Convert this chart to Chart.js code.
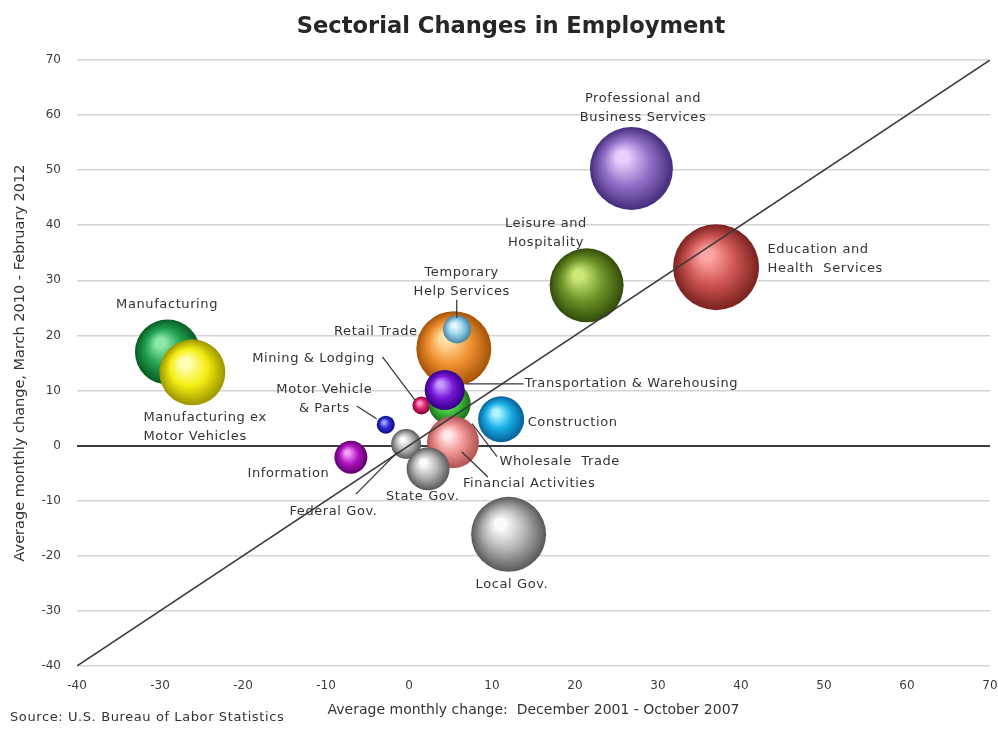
<!DOCTYPE html>
<html>
<head>
<meta charset="utf-8">
<script src="https://cdn.jsdelivr.net/npm/chart.js@4/dist/chart.umd.min.js"></script>
<style>
html,body{margin:0;padding:0;background:#ffffff;}
#wrap{width:998px;height:730px;}
</style>
</head>
<body>
<div id="wrap"><canvas id="c" width="998" height="730"></canvas></div>
<script>
// ---------- data ----------
const sectors = [
  'Manufacturing', 'Manufacturing ex Motor Vehicles', 'Professional and Business Services',
  'Education and Health Services', 'Leisure and Hospitality', 'Retail Trade',
  'Temporary Help Services', 'Mining & Lodging', 'Wholesale Trade',
  'Transportation & Warehousing', 'Financial Activities', 'Construction',
  'Federal Gov.', 'State Gov.', 'Information', 'Motor Vehicle & Parts', 'Local Gov.'
];
// Average monthly change Dec 2001 - Oct 2007 (thousands)
const changeBefore = [-29.1, -26.1, 26.8, 37.0, 21.4, 5.4, 5.8, 1.5, 4.9, 4.3, 5.3, 11.1, -0.35, 2.3, -7.0, -2.8, 12.0];
// Average monthly change Mar 2010 - Feb 2012 (thousands)
const changeAfter  = [17.0, 13.3, 50.3, 32.4, 29.1, 17.6, 21.1, 7.3, 7.6, 10.1, 0.6, 4.8, 0.3, -4.2, -2.1, 3.8, -16.1];
// bubble size (sector size)
const bubbleSizes  = [32.5, 33, 41.5, 43, 37, 37.5, 14, 9, 21, 20, 26, 23, 15, 21.5, 16.5, 9, 37.5];
const axisTicks = [-40, -30, -20, -10, 0, 10, 20, 30, 40, 50, 60, 70];
const diagonal = [{x: -40, y: -40}, {x: 70, y: 70}];

// ---------- styles ----------
const spherePalette = [
  ['#8ce8aa', '#22a252', '#0a5e26'],
  ['#ffffb8', '#f4ee12', '#a09a00'],
  ['#e8d0ff', '#9272c8', '#4a3080'],
  ['#ffa4a2', '#cc5552', '#7e2422'],
  ['#cce878', '#6f9428', '#36500c'],
  ['#ffe0a4', '#f29232', '#a8560a'],
  ['#eaf8ff', '#92d0e8', '#4a88a8'],
  ['#ff9cc8', '#e0206a', '#84003a'],
  ['#b0f6a0', '#42c242', '#1a741a'],
  ['#c89cff', '#7818d8', '#38008c'],
  ['#ffe8e8', '#f09292', '#b45656'],
  ['#b0f4ff', '#18aee6', '#08659c'],
  ['#fcfcfc', '#b4b4b4', '#5e5e5e'],
  ['#fcfcfc', '#b4b4b4', '#5e5e5e'],
  ['#f69cfc', '#b014c0', '#640072'],
  ['#a0a0ff', '#2a2ad0', '#0e0e84'],
  ['#fcfcfc', '#b4b4b4', '#5e5e5e']
];
const labelItems = [
  {lines: ['Professional and', 'Business Services'], x: 28.2, y: 63.0, align: 'center'},
  {lines: ['Leisure and', 'Hospitality'], x: 16.5, y: 40.3, align: 'center'},
  {lines: ['Education and', 'Health  Services'], x: 43.2, y: 35.6, align: 'left'},
  {lines: ['Temporary', 'Help Services'], x: 6.35, y: 31.4, align: 'center'},
  {lines: ['Retail Trade'], x: 1.05, y: 20.7, align: 'right'},
  {lines: ['Mining & Lodging'], x: -4.1, y: 15.8, align: 'right'},
  {lines: ['Motor Vehicle', '& Parts'], x: -10.2, y: 10.1, align: 'center'},
  {lines: ['Manufacturing'], x: -29.15, y: 25.6, align: 'center'},
  {lines: ['Manufacturing ex', 'Motor Vehicles'], x: -32.0, y: 5.1, align: 'left'},
  {lines: ['Information'], x: -9.6, y: -5.1, align: 'right'},
  {lines: ['Federal Gov.'], x: -9.1, y: -12.0, align: 'center'},
  {lines: ['State Gov.'], x: 1.65, y: -9.3, align: 'center'},
  {lines: ['Financial Activities'], x: 6.5, y: -6.9, align: 'left'},
  {lines: ['Wholesale  Trade'], x: 10.9, y: -2.9, align: 'left'},
  {lines: ['Transportation & Warehousing'], x: 13.95, y: 11.2, align: 'left'},
  {lines: ['Construction'], x: 14.3, y: 4.15, align: 'left'},
  {lines: ['Local Gov.'], x: 12.4, y: -25.3, align: 'center'}
];
const leaders = [
  [-3.2, 16.1, 0.7, 8.3],
  [-6.3, 7.2, -3.9, 4.9],
  [-6.4, -8.8, -1.4, -1.2],
  [9.5, -5.7, 6.35, -1.1],
  [10.6, -2.0, 7.6, 4.0],
  [6.8, 11.2, 13.8, 11.2],
  [5.75, 26.5, 5.75, 23.2]
];
const FONT = 'DejaVu Sans';
const TEXT = '#333333';

function sphereFill(ctx) {
  const i = ctx.dataIndex;
  const pal = spherePalette[i] || spherePalette[0];
  const chart = ctx.chart;
  const xs = chart.scales && chart.scales.x, ys = chart.scales && chart.scales.y;
  if (ctx.type !== 'data' || !xs || !ys) return pal[1];
  const cx = xs.getPixelForValue(changeBefore[i]);
  const cy = ys.getPixelForValue(changeAfter[i]);
  const r = bubbleSizes[i];
  if (!isFinite(cx) || !isFinite(cy)) return pal[1];
  const g = chart.ctx.createRadialGradient(cx - r * 0.25, cy - r * 0.32, r * 0.02, cx, cy, r);
  g.addColorStop(0, pal[0]);
  g.addColorStop(0.12, pal[0]);
  g.addColorStop(0.55, pal[1]);
  g.addColorStop(0.97, pal[2]);
  g.addColorStop(1, pal[2]);
  return g;
}

function setSpacing(c, v) { if ('letterSpacing' in c) c.letterSpacing = v; }

const annotations = {
  id: 'annotations',
  afterDatasetsDraw(chart) {
    const c = chart.ctx, xs = chart.scales.x, ys = chart.scales.y;
    c.save();
    c.strokeStyle = '#333333';
    c.lineWidth = 1.2;
    leaders.forEach(l => {
      c.beginPath();
      c.moveTo(xs.getPixelForValue(l[0]), ys.getPixelForValue(l[1]));
      c.lineTo(xs.getPixelForValue(l[2]), ys.getPixelForValue(l[3]));
      c.stroke();
    });
    c.fillStyle = TEXT;
    c.font = '13px "' + FONT + '"';
    setSpacing(c, '0.6px');
    c.textBaseline = 'middle';
    labelItems.forEach(it => {
      c.textAlign = it.align;
      const px = xs.getPixelForValue(it.x), py = ys.getPixelForValue(it.y);
      it.lines.forEach((t, k) => c.fillText(t, px, py + k * 19));
    });
    c.restore();
  },
  afterDraw(chart) {
    const c = chart.ctx;
    c.save();
    c.fillStyle = '#262626';
    c.font = 'bold 22.6px "' + FONT + '"';
    c.textAlign = 'center';
    c.textBaseline = 'middle';
    c.fillText('Sectorial Changes in Employment', 511, 27);
    c.font = '13px "' + FONT + '"';
    setSpacing(c, '0.6px');
    c.fillStyle = TEXT;
    c.textAlign = 'left';
    c.fillText('Source: U.S. Bureau of Labor Statistics', 10, 718);
    c.restore();
  }
};

const tickFont = {family: FONT, size: 12};

new Chart(document.getElementById('c'), {
  type: 'bubble',
  data: {
    datasets: [
      {
        type: 'line', label: 'diagonal', data: diagonal,
        borderColor: '#3a3a3a', borderWidth: 1.5, pointRadius: 0, fill: false, order: 0
      },
      {
        type: 'bubble', label: 'Sectors',
        data: sectors.map((s, i) => ({x: changeBefore[i], y: changeAfter[i], r: bubbleSizes[i]})),
        backgroundColor: sphereFill, borderWidth: 0, order: 1
      }
    ]
  },
  options: {
    responsive: false,
    animation: false,
    events: [],
    layout: {autoPadding: false, padding: {top: 60, right: 8, left: 0, bottom: 0}},
    plugins: {legend: {display: false}, tooltip: {enabled: false}, title: {display: false}},
    scales: {
      x: {
        type: 'linear', min: -40, max: 70,
        afterBuildTicks: s => { s.ticks = axisTicks.map(v => ({value: v})); },
        afterFit: s => { s.height = 64; },
        grid: {display: true, drawOnChartArea: false, drawTicks: true, tickLength: 13, color: 'rgba(0,0,0,0)'},
        border: {display: false},
        ticks: {padding: 0, font: tickFont, color: '#3c3c3c', maxRotation: 0},
        title: {display: true, text: 'Average monthly change:  December 2001 - October 2007',
                font: {family: FONT, size: 14}, color: TEXT, padding: {top: 0, bottom: 11}}
      },
      y: {
        type: 'linear', min: -40, max: 70,
        afterBuildTicks: s => { s.ticks = axisTicks.map(v => ({value: v})); },
        afterFit: s => { s.width = 77; },
        grid: {
          drawTicks: false,
          color: c => (c.tick && c.tick.value === 0) ? '#3c3c3c' : '#d4d4d4',
          lineWidth: c => (c.tick && c.tick.value === 0) ? 2 : 1.6
        },
        border: {display: false},
        ticks: {padding: 16, font: tickFont, color: '#3c3c3c'},
        title: {display: true, text: 'Average monthly change, March 2010 - February 2012',
                font: {family: FONT, size: 14.5}, color: TEXT, padding: {top: 12, bottom: 0}}
      }
    }
  },
  plugins: [annotations]
});
</script>
</body>
</html>
